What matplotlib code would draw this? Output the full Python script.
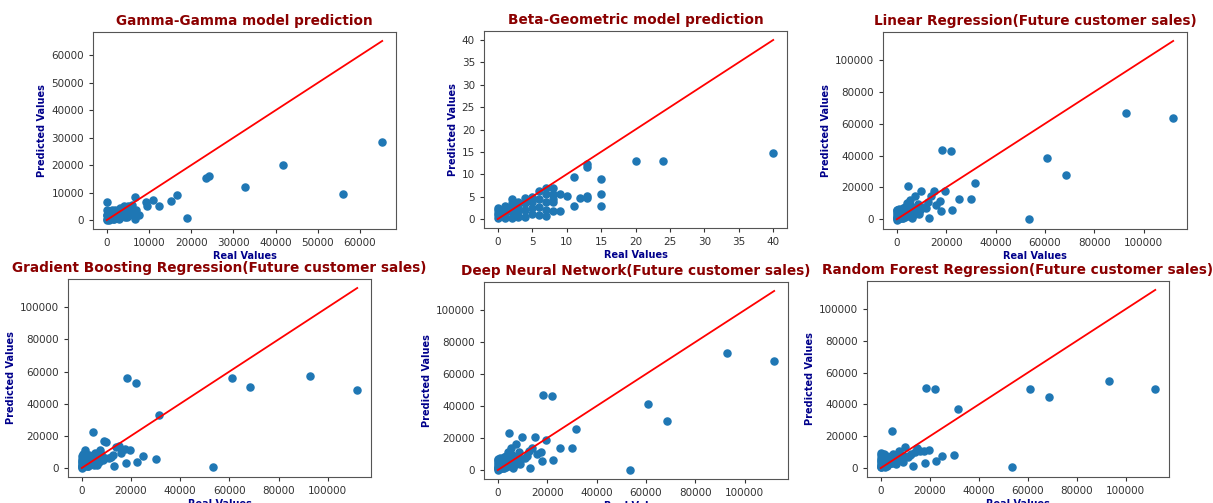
import matplotlib.pyplot as plt

# Gamma-Gamma model: real vs predicted monetary value
gg_real = [65300, 56000, 41800, 32800, 24200, 23500, 19000, 16700, 15300, 12300,
           11000, 9600, 9400, 7700, 6600, 6600, 0,
           6000, 5500, 5000, 4800, 4500, 4200, 4000, 3800, 3500, 3200,
           3000, 2800, 2500, 2200, 2000, 1800, 1500, 1200, 1000, 800,
           600, 400, 200, 100, 0, 0, 0, 0, 300, 700,
           1100, 1700, 2300, 2700, 3300, 3700, 4300, 5200, 5800, 6300, 7000]
gg_pred = [28500, 9500, 20200, 12000, 16000, 15500, 800, 9300, 7000, 5300,
           7200, 5300, 6600, 2000, 8500, 200, 6400,
           5500, 3000, 5200, 1000, 4000, 5200, 2500, 3500, 1500, 4500,
           500, 2000, 3000, 1000, 3500, 2500, 500, 3800, 1500, 2500,
           0, 3000, 1200, 2000, 3500, 2000, 500, 0, 3000, 1000,
           2500, 500, 3000, 1500, 2000, 4000, 1000, 3000, 4500, 2000, 3500]

# Beta-Geometric model: real vs predicted purchases
bg_real = [0, 0, 0, 0, 0, 1, 1, 1, 1, 2, 2, 2, 2, 2, 3, 3, 3, 3, 4, 4, 4, 4,
           5, 5, 5, 5, 6, 6, 6, 6, 7, 7, 7, 7, 7, 8, 8, 8, 8, 8, 9, 9, 10,
           11, 11, 12, 13, 13, 13, 13, 15, 15, 15, 20, 24, 40]
bg_pred = [0.3, 0.8, 1.4, 2.0, 2.5, 0.2, 1.2, 2.2, 3.0, 0.3, 1.5, 2.6, 3.6, 4.5,
           0.4, 1.6, 2.8, 3.8, 0.5, 2.0, 3.5, 4.8, 1.2, 2.5, 3.8, 5.0,
           1.0, 2.8, 4.5, 6.2, 0.7, 2.0, 3.8, 5.5, 7.0, 1.9, 3.8, 4.5, 5.5, 7.0,
           1.7, 5.6, 5.1, 3.0, 9.3, 4.6, 4.7, 5.2, 11.6, 12.2, 2.9, 5.6, 9.0,
           13.0, 12.9, 14.7]

# regression models share the same test set
sales_real = [112000, 93000, 68500, 61000, 53500, 31500, 30000, 25000, 22500, 22000,
              18500, 19500, 18000, 17500, 15000, 13000, 10000, 4500,
              14000, 12000, 11000, 9000, 8500, 8000, 7500, 7000, 6500, 6000,
              5500, 5000, 4800, 4000, 3800, 3500, 3200, 3000, 2800, 2500,
              2200, 2000, 1800, 1500, 1200, 1000, 800, 600, 400, 300,
              200, 100, 0, 0, 0, 0, 50, 150, 250, 700,
              900, 1300, 1600, 2400, 2600, 3300, 4200, 5200, 6200, 7200,
              9500, 12500, 16000]
lr_pred = [63500, 67000, 28000, 38500, 0, 23000, 12500, 12500, 5500, 43000,
           43500, 17500, 5000, 11500, 18000, 1000, 18000, 21000,
           14500, 7000, 8000, 3000, 9500, 4500, 14500, 6500, 3500, 8000,
           12000, 5000, 2500, 10000, 4000, 6500, 1500, 3000, 5500, 2000,
           4500, 1000, 3000, 6000, 500, 2500, 4000, 1500, 0, 3500,
           1000, 5500, 6000, 3000, 1000, -500, 2000, 4500, 500, 6500,
           1000, 3500, 1500, 7000, 500, 8000, 2000, 9000, 1000, 3000,
           6000, 11000, 9000]
gb_pred = [48500, 57000, 50500, 56000, 500, 33000, 5500, 7500, 3500, 53000,
           56000, 11500, 3000, 12000, 14000, 1500, 16000, 22500,
           13000, 7000, 6000, 17000, 5000, 9000, 11000, 4000, 8000, 3000,
           9500, 6000, 2000, 7500, 4000, 2500, 6000, 3000, 8000, 1500,
           5000, 2500, 9000, 4000, 11000, 2000, 6500, 1000, 3000, 7500,
           500, 4500, 7500, 3500, 1000, 0, 2500, 5500, 1500, 8500,
           3000, 5000, 1000, 6500, 1000, 4500, 3500, 8500, 2000, 6500,
           6000, 8000, 9500]
dnn_pred = [68000, 73000, 30500, 41500, 0, 25500, 14000, 13500, 6500, 46500,
            47000, 19000, 5500, 11500, 20500, 1000, 20500, 23000,
            14000, 9000, 7500, 3500, 11000, 5000, 16000, 7000, 4000, 9000,
            13500, 5500, 3000, 11000, 4500, 7000, 2000, 3500, 6000, 2500,
            5000, 1500, 3500, 7000, 1000, 3000, 4500, 2000, 500, 4000,
            1500, 6000, 7000, 3500, 1500, 0, 2500, 5000, 1000, 7500,
            1500, 4000, 2000, 8000, 1000, 9000, 2500, 10000, 1500, 3500,
            7000, 12000, 10000]
rf_pred = [49500, 54500, 44500, 50000, 500, 37000, 8500, 7500, 4500, 50000,
           50500, 11500, 3500, 10500, 12500, 1500, 13000, 23500,
           10000, 8000, 7000, 4000, 8500, 6000, 10500, 5000, 7500, 4000,
           8000, 5500, 3000, 7500, 5000, 3000, 6500, 2500, 7000, 2000,
           5500, 3000, 8000, 4500, 9000, 2500, 6500, 1500, 4000, 8000,
           1000, 5000, 9500, 4500, 2000, 500, 3000, 6500, 1500, 8500,
           3500, 6000, 1000, 7000, 1500, 5500, 3500, 9000, 2500, 6000,
           7500, 9000, 11000]

titles = ['Gamma-Gamma model prediction',
          'Beta-Geometric model prediction',
          'Linear Regression(Future customer sales)',
          'Gradient Boosting Regression(Future customer sales)',
          'Deep Neural Network(Future customer sales)',
          'Random Forest Regression(Future customer sales)']
reals = [gg_real, bg_real, sales_real, sales_real, sales_real, sales_real]
preds = [gg_pred, bg_pred, lr_pred, gb_pred, dnn_pred, rf_pred]

W, H = 1213, 503
# axes boxes in pixels: left, top, right, bottom
boxes = [(93, 32, 396, 229), (484, 31, 787, 228), (883, 32, 1187, 229),
         (68, 279, 371, 477), (484, 282, 788, 479), (867, 281, 1169, 477)]

fig = plt.figure(figsize=(W / 100, H / 100), dpi=100)

for box, title, x, y in zip(boxes, titles, reals, preds):
    l, t, r, b = box
    ax = fig.add_axes([l / W, (H - b) / H, (r - l) / W, (b - t) / H])
    ax.scatter(x, y, s=26, color='#1f77b4', zorder=2)
    ax.plot([min(x), max(x)], [min(x), max(x)], color='red', lw=1.3, zorder=3)
    ax.set_title(title, color='#8b0000', fontsize=9.8, fontweight='bold', pad=5)
    ax.set_xlabel('Real Values', color='darkblue', fontsize=7, fontweight='bold', labelpad=2)
    ax.set_ylabel('Predicted Values', color='darkblue', fontsize=7, fontweight='bold', labelpad=3)
    ax.tick_params(labelsize=7.5, colors='#333333', length=3)
    for sp in ax.spines.values():
        sp.set_color('#555555')

fig.savefig('out.png', dpi=100)
